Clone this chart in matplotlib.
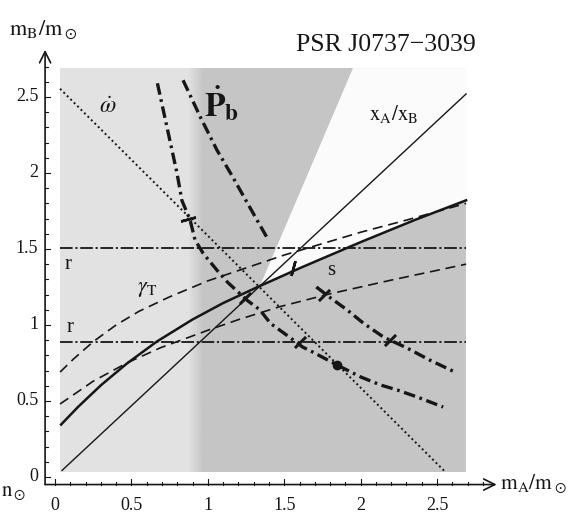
import numpy as np
import matplotlib
matplotlib.use("Agg")
import matplotlib.pyplot as plt

plt.rcParams['font.family'] = ['Liberation Serif', 'DejaVu Serif']
plt.rcParams['mathtext.fontset'] = 'stix'

# --- values (units of solar mass) ---
box = [0.033, 2.69]               # shaded plot range
band_edge = [0.87, 0.97]          # soft left edge of the darker band
wedge_x = [1.95, 1.3415]          # edge of the white wedge
wedge_y = [2.69, 1.257]

omdot_x = [0.033, 2.554]
omdot_y = [2.554, 0.033]

ratio_x = [0.046, 2.69]
ratio_y = [0.043, 2.52]

r_levels = [1.507, 0.89]

s_x = [0.04, 0.15, 0.3, 0.47, 0.665, 0.9, 1.1, 1.32, 1.6, 2.0, 2.35, 2.69]
s_y = [0.345, 0.46, 0.603, 0.746, 0.89, 1.036, 1.144, 1.247, 1.373, 1.545, 1.689, 1.82]

gam_up_x = [0.033, 0.12, 0.25, 0.4, 0.55, 0.75, 1.0, 1.25, 1.5, 1.75, 2.0, 2.3, 2.69]
gam_up_y = [0.69, 0.775, 0.89, 1.0, 1.09, 1.185, 1.29, 1.375, 1.46, 1.535, 1.61, 1.69, 1.80]
gam_lo_x = [0.033, 0.25, 0.47, 0.69, 1.0, 1.2, 1.47, 1.8, 2.2, 2.69]
gam_lo_y = [0.48, 0.63, 0.75, 0.85, 0.965, 1.035, 1.12, 1.205, 1.295, 1.40]

pb1_x = [0.67, 0.733, 0.798, 0.83, 0.884, 0.916, 0.97, 1.06, 1.13, 1.26,
         1.34, 1.41, 1.52, 1.62, 1.69, 1.845, 2.0, 2.13, 2.24, 2.37, 2.54]
pb1_y = [2.59, 2.30, 2.0, 1.82, 1.69, 1.56, 1.47, 1.36, 1.28, 1.16,
         1.10, 1.01, 0.93, 0.855, 0.82, 0.737, 0.658, 0.605, 0.572, 0.526, 0.46]
pb2a_x = [0.838, 0.95, 1.06, 1.165, 1.26, 1.39]
pb2a_y = [2.61, 2.37, 2.15, 1.97, 1.80, 1.57]
pb2b_x = [1.71, 1.80, 1.91, 2.02, 2.15, 2.30, 2.45, 2.63]
pb2b_y = [1.25, 1.18, 1.10, 1.01, 0.92, 0.85, 0.77, 0.684]
pb_dot = (1.845, 0.737)

# hand-drawn tick marks on the curves: x, y, angle (deg, 0 = vertical)
marks_x = [1.56, 1.76, 2.19, 1.245, 0.87, 1.60]
marks_y = [1.375, 1.20, 0.90, 1.175, 1.70, 0.89]
marks_a = [-15, -45, -45, -45, -75, -45]

x_ticks = [0, 0.5, 1, 1.5, 2, 2.5]
y_ticks = [0, 0.5, 1, 1.5, 2, 2.5]
tick_labels = ['0', '0.5', '1', '1.5', '2', '2.5']

ink = '#161616'
light, dark = 0.885, 0.772

fig = plt.figure(figsize=(5.72, 5.23), dpi=100)
ax = fig.add_axes([0, 0, 1, 1])

# shaded regions
lo, hi = box
ax.fill([lo, hi, hi, lo], [lo, lo, hi, hi], color=str(light), lw=0, zorder=0)
ax.fill([band_edge[1], hi, hi, band_edge[1]], [lo, lo, hi, hi], color=str(dark), lw=0, zorder=1)
ramp = np.linspace(light, dark, 16)[None, :]
ax.imshow(ramp, extent=[band_edge[0], band_edge[1], lo, hi], cmap='gray', vmin=0, vmax=1,
          aspect='auto', interpolation='bilinear', zorder=1)
sx, sy = np.array(s_x), np.array(s_y)
keep = sx > wedge_x[1]
wx = [wedge_x[0], hi] + list(sx[keep][::-1]) + [wedge_x[1]]
wy = [wedge_y[0], hi] + list(sy[keep][::-1]) + [wedge_y[1]]
ax.fill(wx, wy, color='#fbfbfb', lw=0, zorder=2)

# curves
ax.plot(omdot_x, omdot_y, color=ink, lw=1.4, ls=(0, (1, 1.5)), zorder=3)
ax.plot(ratio_x, ratio_y, color=ink, lw=1.0, zorder=3)
for lev in r_levels:
    ax.plot([lo, hi], [lev, lev], color=ink, lw=1.3, ls=(0, (7, 1.5, 1.2, 1.5)), zorder=3)
ax.plot(s_x, s_y, color=ink, lw=1.8, zorder=4)
ax.plot(gam_up_x, gam_up_y, color=ink, lw=1.2, ls=(0, (6, 3.5)), zorder=3)
ax.plot(gam_lo_x, gam_lo_y, color=ink, lw=1.2, ls=(0, (6, 3.5)), zorder=3)
pb_style = dict(color=ink, lw=2.4, ls=(0, (3.5, 1.4, 0.8, 1.4)), zorder=5)
ax.plot(pb1_x, pb1_y, **pb_style)
ax.plot(pb2a_x, pb2a_y, **pb_style)
ax.plot(pb2b_x, pb2b_y, **pb_style)
ax.plot(*pb_dot, 'o', color=ink, ms=6, zorder=6)
for mx, my, ma in zip(marks_x, marks_y, marks_a):
    ax.plot(mx, my, marker=(2, 2, ma), ms=11, mew=1.8, color=ink, zorder=6)

# axes with arrows
ax_x0, ax_y0 = -0.065, -0.05
arrow = dict(arrowstyle='->', lw=1.2, color=ink, mutation_scale=20, shrinkA=0, shrinkB=0)
ax.annotate('', xy=(2.89, ax_y0), xytext=(ax_x0, ax_y0), arrowprops=arrow)
ax.annotate('', xy=(ax_x0, 2.81), xytext=(ax_x0, ax_y0), arrowprops=arrow)
for t in np.arange(0, 2.81, 0.1):
    big = abs(t * 2 - round(t * 2)) < 1e-6
    ln = 0.035 if big else 0.02
    ax.plot([t, t], [ax_y0, ax_y0 + ln], color=ink, lw=0.8)
    if t < 2.75:
        ax.plot([ax_x0, ax_x0 + ln], [t, t], color=ink, lw=0.8)
for t, lab in zip(x_ticks, tick_labels):
    ax.text(t, -0.19, lab, ha='center', va='center', fontsize=13, color=ink)
for t, lab in zip(y_ticks, tick_labels):
    ax.text(-0.11, t, lab, ha='right', va='center', fontsize=13, color=ink)

ax.text(-0.08, 2.94, r'$\mathrm{m_B/m_\odot}$', ha='center', va='center', fontsize=16, color=ink)
ax.text(2.91, -0.046, r'$\mathrm{m_A/m_\odot}$', ha='left', va='center', fontsize=15.5, color=ink)
ax.text(-0.353, -0.10, r'$\mathrm{n_\odot}$', ha='left', va='center', fontsize=15, color=ink)
ax.text(2.166, 2.84, 'PSR J0737\u22123039', ha='center', va='center', fontsize=18.5, color=ink)

ax.text(0.347, 2.43, r'$\dot{\omega}$', ha='center', va='center', fontsize=17, color=ink)
ax.text(1.09, 2.46, r'$\mathbf{\dot{P}_b}$', ha='center', va='center', fontsize=24, color=ink)
ax.text(2.22, 2.39, r'$\mathrm{x_A/x_B}$', ha='center', va='center', fontsize=15, color=ink)
ax.text(0.085, 1.40, 'r', ha='center', va='center', fontsize=15, color=ink)
ax.text(0.10, 0.98, 'r', ha='center', va='center', fontsize=15, color=ink)
ax.text(0.60, 1.23, r'$\gamma_\mathrm{T}$', ha='center', va='center', fontsize=16, color=ink)
ax.text(1.81, 1.36, 's', ha='center', va='center', fontsize=15, color=ink)

ax.set_xlim(-0.36, 3.383)
ax.set_ylim(-0.303, 3.138)
ax.axis('off')

fig.savefig('out.png', dpi=100)
